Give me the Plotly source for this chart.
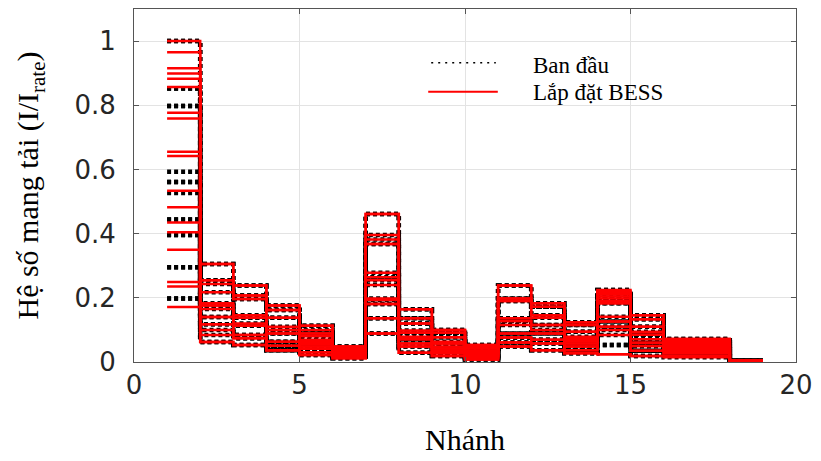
import plotly.graph_objects as go

# Loading factor I/I_rate of each branch (18 branches) for 18 operating snapshots.
# Each list holds one branch, one value per snapshot.
nhanh_01 = [1.00, 1.00, 0.852, 0.852, 0.798, 0.798, 0.593, 0.561, 0.561, 0.527, 0.444, 0.444, 0.396, 0.396, 0.295, 0.295, 0.198, 0.198]
nhanh_02 = [0.305, 0.305, 0.255, 0.255, 0.243, 0.217, 0.183, 0.176, 0.176, 0.165, 0.140, 0.140, 0.118, 0.118, 0.100, 0.084, 0.062, 0.062]
nhanh_03 = [0.238, 0.238, 0.207, 0.207, 0.196, 0.196, 0.146, 0.138, 0.138, 0.120, 0.113, 0.113, 0.084, 0.084, 0.074, 0.074, 0.053, 0.053]
nhanh_04 = [0.176, 0.176, 0.162, 0.162, 0.138, 0.138, 0.110, 0.100, 0.100, 0.089, 0.089, 0.063, 0.063, 0.051, 0.051, 0.037, 0.037, 0.037]
nhanh_05 = [0.113, 0.113, 0.100, 0.089, 0.089, 0.080, 0.069, 0.062, 0.062, 0.055, 0.048, 0.048, 0.041, 0.041, 0.030, 0.030, 0.022, 0.022]
nhanh_06 = [0.048, 0.048, 0.044, 0.044, 0.040, 0.040, 0.034, 0.031, 0.031, 0.028, 0.025, 0.025, 0.021, 0.021, 0.017, 0.017, 0.012, 0.012]
nhanh_07 = [0.461, 0.461, 0.396, 0.382, 0.368, 0.368, 0.278, 0.264, 0.255, 0.240, 0.198, 0.193, 0.181, 0.181, 0.136, 0.136, 0.089, 0.089]
nhanh_08 = [0.164, 0.164, 0.136, 0.136, 0.120, 0.120, 0.098, 0.091, 0.091, 0.079, 0.071, 0.071, 0.058, 0.058, 0.048, 0.048, 0.029, 0.029]
nhanh_09 = [0.100, 0.100, 0.091, 0.091, 0.077, 0.077, 0.063, 0.058, 0.058, 0.048, 0.042, 0.042, 0.035, 0.035, 0.027, 0.027, 0.019, 0.019]
nhanh_10 = [0.053, 0.053, 0.047, 0.047, 0.042, 0.042, 0.035, 0.032, 0.032, 0.028, 0.024, 0.024, 0.019, 0.019, 0.014, 0.014, 0.008, 0.008]
nhanh_11 = [0.238, 0.238, 0.198, 0.198, 0.190, 0.190, 0.136, 0.128, 0.128, 0.115, 0.089, 0.089, 0.076, 0.076, 0.061, 0.061, 0.048, 0.048]
nhanh_12 = [0.183, 0.183, 0.172, 0.172, 0.146, 0.146, 0.138, 0.115, 0.115, 0.100, 0.089, 0.089, 0.069, 0.069, 0.058, 0.058, 0.037, 0.037]
nhanh_13 = [0.124, 0.124, 0.115, 0.115, 0.094, 0.094, 0.079, 0.072, 0.072, 0.065, 0.058, 0.058, 0.048, 0.048, 0.037, 0.037, 0.027, 0.027]
nhanh_14 = [0.224, 0.224, 0.214, 0.207, 0.198, 0.198, 0.190, 0.183, 0.183, 0.141, 0.126, 0.126, 0.110, 0.110, 0.100, 0.084, 0.053, 0.053]
nhanh_15 = [0.146, 0.146, 0.133, 0.133, 0.110, 0.110, 0.094, 0.085, 0.085, 0.071, 0.060, 0.060, 0.050, 0.050, 0.035, 0.035, 0.019, 0.019]
nhanh_16 = [0.072, 0.072, 0.068, 0.068, 0.062, 0.062, 0.055, 0.050, 0.050, 0.045, 0.040, 0.040, 0.035, 0.035, 0.028, 0.028, 0.020, 0.015]
nhanh_17 = [0.072, 0.072, 0.068, 0.068, 0.062, 0.062, 0.055, 0.050, 0.050, 0.045, 0.040, 0.040, 0.035, 0.035, 0.028, 0.028, 0.020, 0.015]
nhanh_18 = [0.004, 0.004, 0.004, 0.004, 0.003, 0.003, 0.003, 0.003, 0.003, 0.003, 0.003, 0.003, 0.002, 0.002, 0.002, 0.002, 0.002, 0.002]

# With the BESS installed only branches 1 and 14 change
bess_nhanh_01 = [1.00, 0.965, 0.915, 0.899, 0.883, 0.857, 0.777, 0.759, 0.655, 0.642, 0.534, 0.482, 0.435, 0.404, 0.350, 0.249, 0.235, 0.171]
bess_nhanh_14 = [0.224, 0.220, 0.214, 0.210, 0.204, 0.198, 0.190, 0.183, 0.183, 0.141, 0.126, 0.126, 0.110, 0.110, 0.100, 0.084, 0.024, 0.024]

branch_ids = list(range(1, 20))  # stair edges 1..19

ban_dau_cols = [nhanh_01, nhanh_02, nhanh_03, nhanh_04, nhanh_05, nhanh_06, nhanh_07, nhanh_08, nhanh_09,
                nhanh_10, nhanh_11, nhanh_12, nhanh_13, nhanh_14, nhanh_15, nhanh_16, nhanh_17, nhanh_18]
bess_cols = list(ban_dau_cols)
bess_cols[0] = bess_nhanh_01
bess_cols[13] = bess_nhanh_14

n_snap = len(nhanh_01)


def stair_y(cols, k):
    vals = [c[k] for c in cols]
    return vals + [vals[-1]]


fig = go.Figure()

# base case: thick black dotted stairs underneath
for k in range(n_snap):
    fig.add_trace(go.Scatter(x=branch_ids, y=stair_y(ban_dau_cols, k), mode="lines", line_shape="hv",
                             line=dict(color="#000000", width=4.5, dash="4px,3px"), showlegend=False,
                             hoverinfo="skip"))
# with BESS: thinner red stairs on top
for k in range(n_snap):
    fig.add_trace(go.Scatter(x=branch_ids, y=stair_y(bess_cols, k), mode="lines", line_shape="hv",
                             line=dict(color="#ff0000", width=2.5), showlegend=False, hoverinfo="skip"))

# plot area in pixels: x 134..800, y 8..362
def px(x):
    return (x - 134) / 666


def py(y):
    return (362 - y) / 354


shapes = [
    dict(type="rect", xref="paper", yref="paper", x0=px(513), x1=px(788), y0=py(115), y1=py(30),
         fillcolor="white", line=dict(width=0), layer="below"),
    dict(type="line", xref="paper", yref="paper", x0=px(433), x1=px(498), y0=py(62), y1=py(62),
         line=dict(color="black", width=1.5, dash="2px,5px")),
    dict(type="line", xref="paper", yref="paper", x0=px(430), x1=px(500), y0=py(91), y1=py(91),
         line=dict(color="#ff0000", width=2)),
]

serif = "Liberation Serif, Times New Roman, serif"
annotations = [
    dict(xref="paper", yref="paper", x=px(533), y=py(65), text="Ban đầu", showarrow=False,
         xanchor="left", yanchor="middle", font=dict(family=serif, size=23, color="black")),
    dict(xref="paper", yref="paper", x=px(533), y=py(92), text="Lắp đặt BESS", showarrow=False,
         xanchor="left", yanchor="middle", font=dict(family=serif, size=23, color="black")),
]

axis_common = dict(showline=True, linecolor="#555555", linewidth=1, mirror="ticks", ticks="inside",
                   ticklen=5, tickcolor="#555555", showgrid=True, gridcolor="#e3e3e3", gridwidth=1,
                   zeroline=False, tickfont=dict(family="DejaVu Sans, Arial, sans-serif", size=26, color="#262626"))

fig.update_layout(
    width=821, height=461,
    margin=dict(l=134, r=21, t=8, b=99),
    paper_bgcolor="white", plot_bgcolor="white",
    shapes=shapes, annotations=annotations,
    xaxis=dict(range=[0, 20], tickvals=[0, 5, 10, 15, 20],
               title=dict(text="Nhánh", font=dict(family=serif, size=30, color="black"), standoff=29),
               **axis_common),
    yaxis=dict(range=[0, 1.1], tickvals=[0, 0.2, 0.4, 0.6, 0.8, 1], ticktext=["0", "0.2", "0.4", "0.6", "0.8", "1"],
               title=dict(text="Hệ số mang tải (I/I<sub>rate</sub>)", font=dict(family=serif, size=30, color="black"),
                          standoff=26),
               ticklabelstandoff=12, **axis_common),
)

fig.write_html("out.html")
